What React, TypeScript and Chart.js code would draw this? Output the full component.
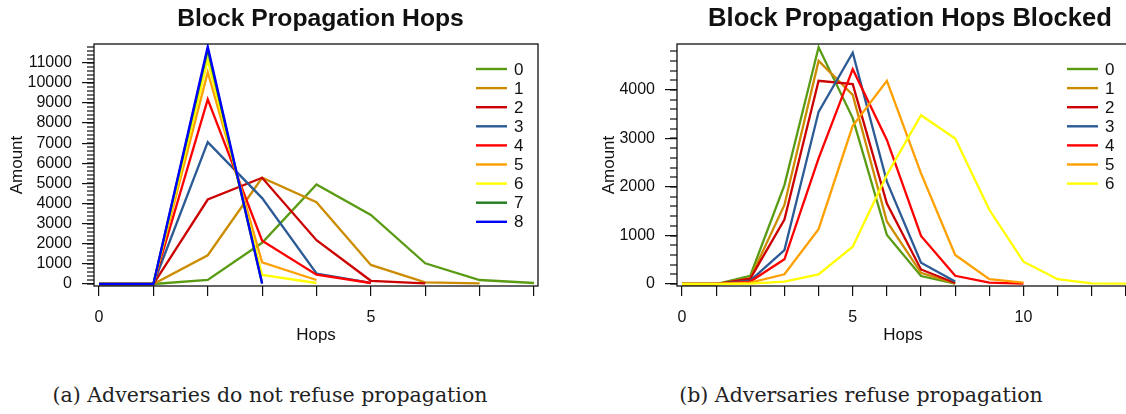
import React, { useEffect, useRef } from 'react';
import { Chart, registerables } from 'chart.js';

Chart.register(...registerables);

// ---------- data: panel (a) ----------
const HOPS_A = [0, 1, 2, 3, 4, 5, 6, 7, 8];
const A_0 = [0, 0, 200, 2050, 4950, 3430, 1030, 200, 50];
const A_1 = [0, 0, 1430, 5280, 4070, 950, 80, 30];
const A_2 = [0, 0, 4200, 5280, 2180, 160, 30];
const A_3 = [0, 0, 7050, 4270, 520, 60];
const A_4 = [0, 0, 9180, 2150, 460, 50];
const A_5 = [0, 0, 10530, 1080, 200];
const A_6 = [0, 0, 11150, 450, 50];
const A_7 = [0, 0, 11650, 30];
const A_8 = [0, 0, 11800, 30];
const SERIES_A = [A_0, A_1, A_2, A_3, A_4, A_5, A_6, A_7, A_8];
const Y_TICKS_A = [0, 1000, 2000, 3000, 4000, 5000, 6000, 7000, 8000, 9000, 10000, 11000];
const X_TICKS_A = [0, 1, 2, 3, 4, 5, 6, 7, 8];
const X_LABELS_A = [0, 5];

// ---------- data: panel (b) ----------
const HOPS_B = [0, 1, 2, 3, 4, 5, 6, 7, 8, 9, 10, 11, 12, 13];
const B_0 = [0, 0, 170, 2040, 4880, 3420, 1010, 165, 10];
const B_1 = [0, 0, 120, 1630, 4600, 3900, 1290, 230, 10];
const B_2 = [0, 0, 110, 1330, 4190, 4120, 1660, 300, 20];
const B_3 = [0, 0, 70, 700, 3550, 4770, 2110, 440, 50];
const B_4 = [0, 0, 50, 510, 2590, 4430, 2970, 990, 170, 30, 10];
const B_5 = [0, 0, 30, 200, 1130, 3260, 4190, 2280, 600, 100, 30];
const B_6 = [0, 0, 10, 50, 200, 770, 2250, 3480, 3000, 1530, 460, 100, 15, 10];
const SERIES_B = [B_0, B_1, B_2, B_3, B_4, B_5, B_6];
const Y_TICKS_B = [0, 1000, 2000, 3000, 4000];
const X_TICKS_B = [0, 1, 2, 3, 4, 5, 6, 7, 8, 9, 10, 11, 12, 13];
const X_LABELS_B = [0, 5, 10];

const SERIES_NAMES = ['0', '1', '2', '3', '4', '5', '6', '7', '8'];
const COLORS = ['#5a9b14', '#cc8c00', '#cc0000', '#2b5a94', '#ff0000', '#ffa000', '#ffff00', '#1e7d1e', '#0000ff'];

const TITLE_A = 'Block Propagation Hops';
const TITLE_B = 'Block Propagation Hops Blocked';
const CAPTION_A = '(a) Adversaries do not refuse propagation';
const CAPTION_B = '(b) Adversaries refuse propagation';

const FONT = "'Liberation Sans', Arial, sans-serif";
const INK = '#111';
const MINOR_STEP = 200;
const MINOR_LEN = 7;

const framePlugin = {
  id: 'igorFrame',
  afterDraw(chart: any, _args: any, opts: any) {
    const { ctx, chartArea: a } = chart;
    const ys = chart.scales.y;
    ctx.save();
    // minor ticks on y axis
    ctx.fillStyle = INK;
    for (let i = 0; i < 500; i++) {
      const p = ys.getPixelForValue(i * MINOR_STEP);
      if (!(p >= a.top)) break;
      ctx.fillRect(a.left - MINOR_LEN, Math.round(p) - 0.6, MINOR_LEN, 1.2);
    }
    // plot box
    ctx.strokeStyle = INK;
    ctx.lineWidth = 1.3;
    ctx.strokeRect(a.left, a.top, a.right - a.left, a.bottom - a.top);
    // legend inside the plot
    ctx.font = `17px ${FONT}`;
    ctx.textBaseline = 'middle';
    ctx.textAlign = 'left';
    chart.data.datasets.forEach((ds: any, i: number) => {
      const y = a.top + opts.legendTop + i * opts.legendStep;
      ctx.strokeStyle = ds.borderColor;
      ctx.lineWidth = 2.4;
      ctx.beginPath();
      ctx.moveTo(a.right + opts.legendX1, y);
      ctx.lineTo(a.right + opts.legendX2, y);
      ctx.stroke();
      ctx.fillStyle = INK;
      ctx.fillText(ds.label, a.right + opts.legendTx, y + 1);
    });
    // panel title
    ctx.font = `bold ${opts.titleSize}px ${FONT}`;
    ctx.textAlign = 'center';
    ctx.textBaseline = 'alphabetic';
    ctx.fillStyle = INK;
    ctx.fillText(opts.title, (a.left + a.right) / 2 + opts.titleDx, opts.titleY);
    ctx.restore();
  },
};

function makeConfig(
  hops: number[],
  series: number[][],
  yTicks: number[],
  xTicks: number[],
  xLabels: number[],
  xMin: number,
  xMax: number,
  yMin: number,
  yMax: number,
  yWidth: number,
  yTitlePad: number,
  title: string,
  titleDx: number,
  titleSize: number
): any {
  return {
    type: 'line',
    data: {
      labels: hops,
      datasets: series.map((s, i) => ({
        label: SERIES_NAMES[i],
        data: s,
        borderColor: COLORS[i],
        backgroundColor: COLORS[i],
        borderWidth: 2.3,
        pointRadius: 0,
        tension: 0,
        fill: false,
        order: series.length - 1 - i,
      })),
    },
    options: {
      responsive: false,
      animation: false,
      layout: { padding: { top: 44, right: 3, left: 0, bottom: 0 } },
      plugins: {
        legend: { display: false },
        tooltip: { enabled: false },
        title: { display: false },
        igorFrame: {
          legendTop: 25,
          legendStep: 19.1,
          legendX1: -62,
          legendX2: -31,
          legendTx: -24,
          title,
          titleDx,
          titleSize,
          titleY: 26,
        },
      },
      scales: {
        x: {
          type: 'linear',
          min: xMin,
          max: xMax,
          afterBuildTicks: (axis: any) => {
            axis.ticks = xTicks.map((v) => ({ value: v }));
          },
          afterFit: (axis: any) => {
            axis.height = 74;
            axis.paddingLeft = 0;
            axis.paddingRight = 0;
          },
          border: { display: false },
          grid: { drawOnChartArea: false, drawTicks: true, tickLength: 10, color: INK, lineWidth: 1.2 },
          ticks: {
            autoSkip: false,
            maxRotation: 0,
            padding: 12,
            color: INK,
            font: { family: FONT, size: 16 },
            callback: (v: any) => (xLabels.includes(Number(v)) ? String(v) : ''),
          },
          title: {
            display: true,
            text: 'Hops',
            color: INK,
            font: { family: FONT, size: 17 },
            padding: { top: 0, bottom: 14 },
          },
        },
        y: {
          type: 'linear',
          min: yMin,
          max: yMax,
          afterBuildTicks: (axis: any) => {
            axis.ticks = yTicks.map((v) => ({ value: v }));
          },
          afterFit: (axis: any) => {
            axis.width = yWidth;
            axis.paddingTop = 0;
            axis.paddingBottom = 0;
          },
          border: { display: false },
          grid: { drawOnChartArea: false, drawTicks: true, tickLength: 12, color: INK, lineWidth: 1.2 },
          ticks: {
            autoSkip: false,
            padding: 10,
            color: INK,
            font: { family: FONT, size: 16 },
            callback: (v: any) => String(v),
          },
          title: {
            display: true,
            text: 'Amount',
            color: INK,
            font: { family: FONT, size: 17 },
            padding: { top: yTitlePad, bottom: 0 },
          },
        },
      },
    },
    plugins: [framePlugin],
  };
}

function Panel(props: { config: any; left: number; width: number }) {
  const ref = useRef<HTMLCanvasElement | null>(null);
  useEffect(() => {
    if (!ref.current) return;
    const chart = new Chart(ref.current, props.config);
    return () => chart.destroy();
  }, []);
  return (
    <canvas
      ref={ref}
      width={props.width}
      height={360}
      style={{ position: 'absolute', left: props.left, top: 0, width: props.width, height: 360 }}
    />
  );
}

export default function App() {
  const cfgA = makeConfig(HOPS_A, SERIES_A, Y_TICKS_A, X_TICKS_A, X_LABELS_A, -0.092, 8.074, -99, 11930, 94, 7, TITLE_A, 4.5, 24.7);
  const cfgB = makeConfig(HOPS_B, SERIES_B, Y_TICKS_B, X_TICKS_B, X_LABELS_B, -0.146, 13.09, -41, 4948, 114, 36, TITLE_B, 7, 25.6);
  const captionStyle: React.CSSProperties = {
    position: 'absolute',
    top: 383,
    height: 24,
    lineHeight: '24px',
    fontFamily: "'DejaVu Serif', serif",
    fontSize: 20.5,
    color: '#222',
    textAlign: 'center',
    whiteSpace: 'nowrap',
  };
  return (
    <div
      style={{
        position: 'absolute',
        left: 0,
        top: 0,
        width: 1126,
        height: 414,
        overflow: 'hidden',
        background: '#fff',
      }}
    >
      <Panel config={cfgA} left={0} width={541} />
      <Panel config={cfgB} left={563} width={569} />
      <div style={{ ...captionStyle, left: 20, width: 500 }}>{CAPTION_A}</div>
      <div style={{ ...captionStyle, left: 611, width: 500 }}>{CAPTION_B}</div>
    </div>
  );
}
